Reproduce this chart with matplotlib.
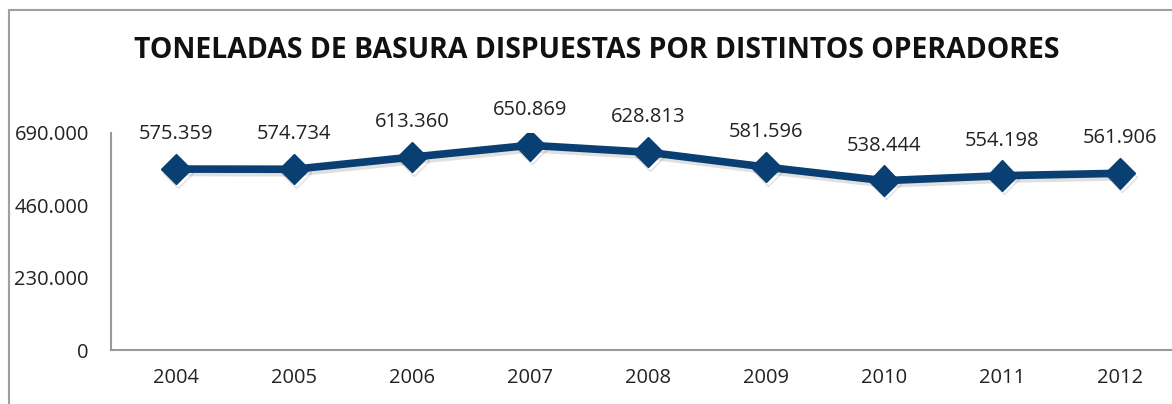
import matplotlib.pyplot as plt
import matplotlib.patheffects as pe
from matplotlib.patches import Rectangle
from matplotlib.ticker import FuncFormatter

# tonnes of waste per year
years = ['2004', '2005', '2006', '2007', '2008', '2009', '2010', '2011', '2012']
toneladas = [575359, 574734, 613360, 650869, 628813, 581596, 538444, 554198, 561906]
y_ticks = [0, 230000, 460000, 690000]

plt.rcParams['font.family'] = ['Open Sans', 'DejaVu Sans']


def miles(v, pos=None):
    # spanish style thousands separator
    return '{:,.0f}'.format(v).replace(',', '.')


fig = plt.figure(figsize=(11.72, 4.04), dpi=100)
ax = fig.add_axes([111 / 1172, 1 - 350 / 404, 1 - 111 / 1172, (350 - 133) / 404])

# outer chart border (cut off on right and bottom)
fig.patches.append(Rectangle((9 / 1172, -0.1), 1.2, 1 - 10 / 404 + 0.1,
                             transform=fig.transFigure, fill=False,
                             edgecolor='#a0a0a0', linewidth=1.5))

x = list(range(len(years)))
ax.plot(x, toneladas, color='#0a3f73', linewidth=5.5, marker='D', markersize=15.5,
        solid_joinstyle='round',
        path_effects=[pe.SimpleLineShadow(offset=(1.5, -2.5), shadow_color='#000000', alpha=0.12),
                      pe.Normal()])

for xi, v in zip(x, toneladas):
    ax.annotate(miles(v), (xi, v), xytext=(0, 35), textcoords='offset pixels',
                ha='center', va='center', fontsize=14.5, color='#222222')

ax.set_xlim(-0.55, 8.44)
ax.set_ylim(0, 690000)
ax.set_xticks(x)
ax.set_xticklabels(years)
ax.set_yticks(y_ticks)
ax.yaxis.set_major_formatter(FuncFormatter(miles))
ax.tick_params(axis='both', length=0, labelsize=14.5, colors='#222222')
ax.tick_params(axis='y', pad=16)
ax.tick_params(axis='x', pad=13)

for s in ['top', 'right']:
    ax.spines[s].set_visible(False)
for s in ['left', 'bottom']:
    ax.spines[s].set_color('#999999')
    ax.spines[s].set_linewidth(1.5)

fig.text(597 / 1172, 1 - 50 / 404, 'TONELADAS DE BASURA DISPUESTAS POR DISTINTOS OPERADORES',
         ha='center', va='center', fontsize=20.4, fontweight='bold', color='#111111')

fig.savefig('out.png', dpi=100)
